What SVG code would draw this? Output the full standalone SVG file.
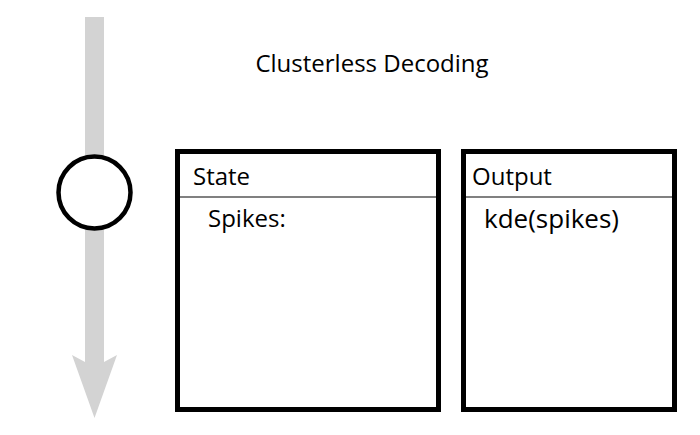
<svg xmlns="http://www.w3.org/2000/svg" width="700" height="435" viewBox="0 0 700 435">
  <style>
    .lbl { font-family: "Open Sans", "Noto Sans", "DejaVu Sans", sans-serif; font-size: 24px; fill: #000; }
    .big { font-size: 26px; }
    .box { fill: #fff; stroke: #000; stroke-width: 5; }
    .div { stroke: #808080; stroke-width: 2; }
  </style>
  <rect width="700" height="435" fill="#fff"/>
  <g id="connectors">
    <rect x="85" y="17" width="19" height="346" fill="#d3d3d3"/>
    <polygon points="72,355 94.5,418 117,355 104,362 85,362" fill="#d3d3d3"/>
  </g>
  <g id="title">
    <text class="lbl" x="372" y="72" text-anchor="middle">Clusterless Decoding</text>
  </g>
  <g id="step">
    <circle cx="94.5" cy="192.5" r="36" fill="#fff" stroke="#000" stroke-width="4.5"/>
  </g>
  <g id="state">
    <rect class="box" x="177.5" y="151.5" width="261" height="258"/>
    <line class="div" x1="180" y1="197" x2="436" y2="197"/>
    <text class="lbl" x="193" y="185">State</text>
    <text class="lbl" x="208" y="227">Spikes:</text>
  </g>
  <g id="output">
    <rect class="box" x="463.5" y="151.5" width="211" height="258"/>
    <line class="div" x1="466" y1="197" x2="672" y2="197"/>
    <text class="lbl" x="472" y="185">Output</text>
    <text class="lbl big" x="484" y="228">kde(spikes)</text>
  </g>
</svg>
